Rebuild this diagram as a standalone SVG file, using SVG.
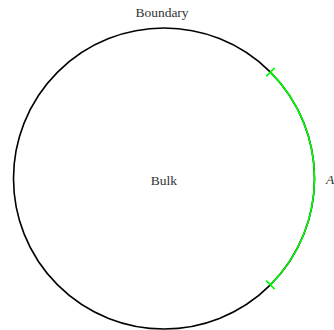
<svg xmlns="http://www.w3.org/2000/svg" width="334" height="330" viewBox="0 0 334 330">
<style>
.lbl{font-family:"Liberation Serif","DejaVu Serif",serif;font-size:13.5px;fill:#333;text-anchor:middle}
.circ{fill:none;stroke:#000;stroke-width:1.6}
.reg{fill:none;stroke:#00ff00;stroke-width:1.6}
</style>
<rect width="334" height="330" fill="#fff"/>
<g id="bulk">
<circle class="circ" cx="164" cy="178.5" r="150.5"/>
<text class="lbl" x="164" y="184.5">Bulk</text>
</g>
<g id="boundary">
<text class="lbl" x="162" y="16.5">Boundary</text>
</g>
<g id="region-A">
<path class="reg" d="M270.42,72.08 A150.5,150.5 0 0 1 270.42,284.92"/>
<line class="reg" x1="266.18" y1="76.32" x2="274.66" y2="67.84"/>
<line class="reg" x1="266.18" y1="280.68" x2="274.66" y2="289.16"/>
<text class="lbl" x="326" y="183.5" style="font-style:italic;text-anchor:start">A</text>
</g>
</svg>
